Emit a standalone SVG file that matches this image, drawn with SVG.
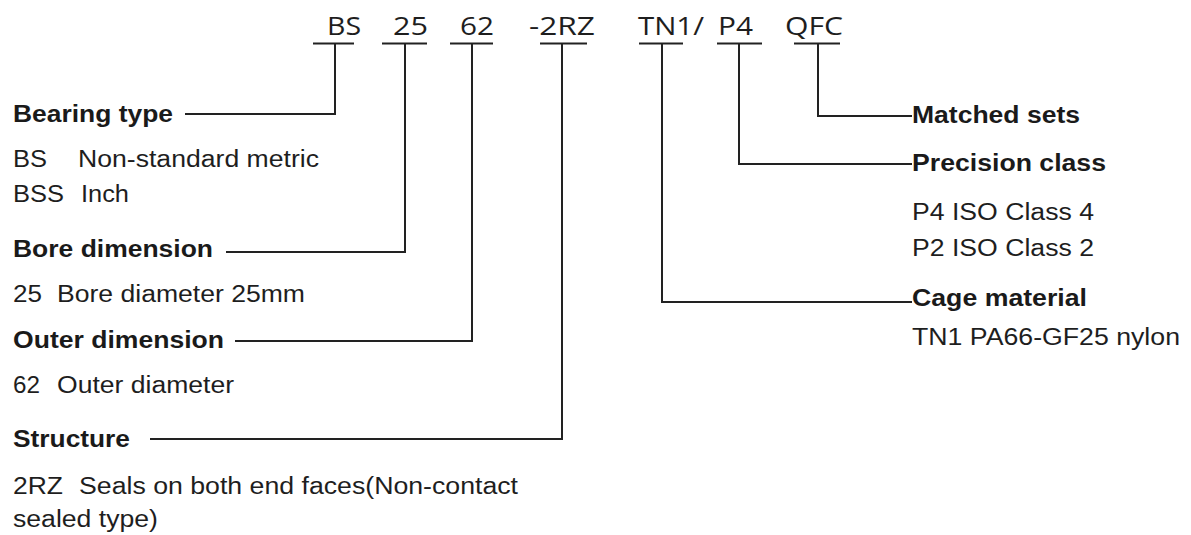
<svg xmlns="http://www.w3.org/2000/svg" width="1191" height="535" viewBox="0 0 1191 535">
<style>
.code{font-family:"Open Sans","DejaVu Sans",sans-serif;font-size:25px;fill:#1e1e1e}
.head{font-family:"Liberation Sans",Arial,sans-serif;font-size:23px;font-weight:bold;fill:#1a1a1a}
.body{font-family:"Liberation Sans",Arial,sans-serif;font-size:23px;fill:#1e1e1e}
.ln{fill:none;stroke:#222;stroke-width:2}
.ul{fill:none;stroke:#222;stroke-width:2.2}
</style>
<rect width="1191" height="535" fill="#ffffff"/>
<g id="connectors">
<path class="ln" d="M335,44 V114 H185"/>
<path class="ln" d="M405,44 V252 H226"/>
<path class="ln" d="M472,44 V341 H235"/>
<path class="ln" d="M562,44 V439 H150"/>
<path class="ln" d="M662,44 V302 H912"/>
<path class="ln" d="M739,44 V164 H912"/>
<path class="ln" d="M818,44 V116 H912"/>
</g>
<g id="code">
<g id="code-bs"><text class="code" x="327" y="35" textLength="34" lengthAdjust="spacingAndGlyphs">BS</text><path class="ul" d="M313,43.5 H354"/></g>
<g id="code-25"><text class="code" x="393" y="35" textLength="35" lengthAdjust="spacingAndGlyphs">25</text><path class="ul" d="M382,43.5 H427"/></g>
<g id="code-62"><text class="code" x="460" y="35" textLength="34" lengthAdjust="spacingAndGlyphs">62</text><path class="ul" d="M450,43.5 H493"/></g>
<g id="code-2rz"><text class="code" x="529" y="35" textLength="66" lengthAdjust="spacingAndGlyphs">-2RZ</text><path class="ul" d="M540,43.5 H587"/></g>
<g id="code-tn1"><text class="code" x="638" y="35" textLength="66" lengthAdjust="spacingAndGlyphs">TN1/</text><path class="ul" d="M639,43.5 H683"/></g>
<g id="code-p4"><text class="code" x="718" y="35" textLength="35" lengthAdjust="spacingAndGlyphs">P4</text><path class="ul" d="M717,43.5 H762"/></g>
<g id="code-qfc"><text class="code" x="785" y="35" textLength="58" lengthAdjust="spacingAndGlyphs">QFC</text><path class="ul" d="M794,43.5 H840"/></g>
</g>
<g id="bearing-type">
<text class="head" x="13" y="122" textLength="160" lengthAdjust="spacingAndGlyphs">Bearing type</text>
<text class="body" x="13" y="167" textLength="34" lengthAdjust="spacingAndGlyphs">BS</text>
<text class="body" x="78" y="167" textLength="241" lengthAdjust="spacingAndGlyphs">Non-standard metric</text>
<text class="body" x="13" y="202" textLength="51" lengthAdjust="spacingAndGlyphs">BSS</text>
<text class="body" x="81" y="202" textLength="48" lengthAdjust="spacingAndGlyphs">Inch</text>
</g>
<g id="bore-dimension">
<text class="head" x="13" y="257" textLength="200" lengthAdjust="spacingAndGlyphs">Bore dimension</text>
<text class="body" x="13" y="302" textLength="29" lengthAdjust="spacingAndGlyphs">25</text>
<text class="body" x="57" y="302" textLength="248" lengthAdjust="spacingAndGlyphs">Bore diameter 25mm</text>
</g>
<g id="outer-dimension">
<text class="head" x="13" y="348" textLength="211" lengthAdjust="spacingAndGlyphs">Outer dimension</text>
<text class="body" x="13" y="393" textLength="27" lengthAdjust="spacingAndGlyphs">62</text>
<text class="body" x="57" y="393" textLength="177" lengthAdjust="spacingAndGlyphs">Outer diameter</text>
</g>
<g id="structure">
<text class="head" x="13" y="447" textLength="117" lengthAdjust="spacingAndGlyphs">Structure</text>
<text class="body" x="13" y="494" textLength="50" lengthAdjust="spacingAndGlyphs">2RZ</text>
<text class="body" x="79" y="494" textLength="439" lengthAdjust="spacingAndGlyphs">Seals on both end faces(Non-contact</text>
<text class="body" x="13" y="527" textLength="145" lengthAdjust="spacingAndGlyphs">sealed type)</text>
</g>
<g id="matched-sets">
<text class="head" x="912" y="123" textLength="168" lengthAdjust="spacingAndGlyphs">Matched sets</text>
</g>
<g id="precision-class">
<text class="head" x="912" y="171" textLength="194" lengthAdjust="spacingAndGlyphs">Precision class</text>
<text class="body" x="912" y="219.5" textLength="182" lengthAdjust="spacingAndGlyphs">P4 ISO Class 4</text>
<text class="body" x="912" y="256" textLength="182" lengthAdjust="spacingAndGlyphs">P2 ISO Class 2</text>
</g>
<g id="cage-material">
<text class="head" x="912" y="306" textLength="175" lengthAdjust="spacingAndGlyphs">Cage material</text>
<text class="body" x="912" y="344.5" textLength="268" lengthAdjust="spacingAndGlyphs">TN1 PA66-GF25 nylon</text>
</g>
</svg>
